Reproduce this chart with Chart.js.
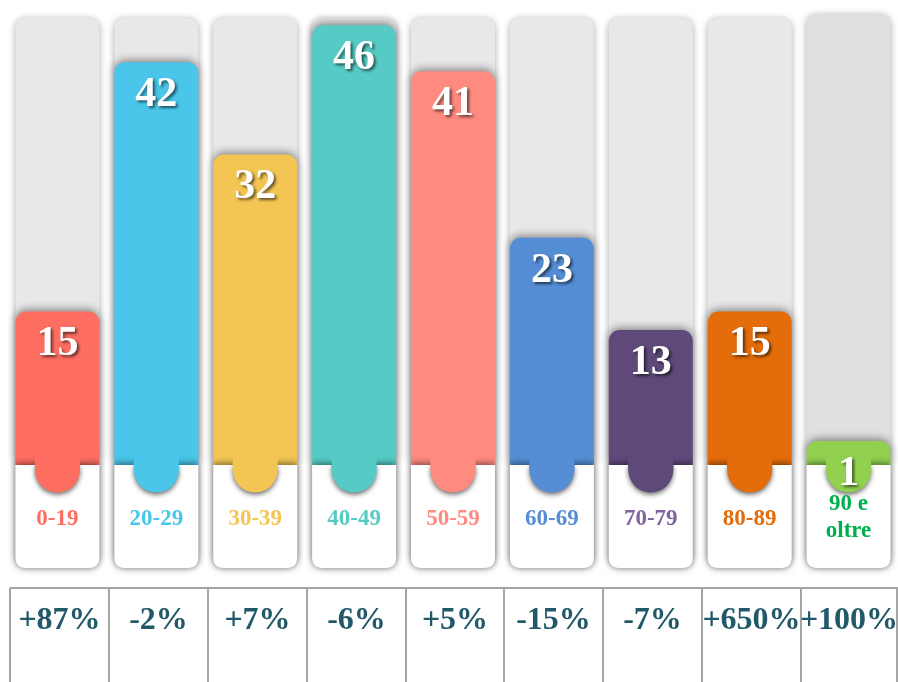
<!DOCTYPE html>
<html>
<head>
<meta charset="utf-8">
<script src="https://cdn.jsdelivr.net/npm/chart.js@4.4.1/dist/chart.umd.min.js"></script>
<style>
  html, body { margin: 0; padding: 0; background: #fff; }
  #wrap { width: 898px; height: 682px; }
</style>
</head>
<body>
<div id="wrap"><canvas id="chart" width="898" height="682"></canvas></div>
<script>
// --- Data ---
const categories = ['0-19', '20-29', '30-39', '40-49', '50-59', '60-69', '70-79', '80-89', ['90 e', 'oltre']];
const values = [15, 42, 32, 46, 41, 23, 13, 15, 1];
const changes = ['+87%', '-2%', '+7%', '-6%', '+5%', '-15%', '-7%', '+650%', '+100%'];
const barColors = ['#fe6e61', '#4ac6ea', '#f3c654', '#56cbc5', '#ff8b80', '#558ed5', '#5f497a', '#e46c0a', '#92d050'];
const labelColors = ['#fe6e61', '#4ac6ea', '#f3c654', '#56cbc5', '#ff8b80', '#558ed5', '#8064a2', '#e46c0a', '#00b050'];

const SERIF = '"Liberation Serif", "Times New Roman", serif';
const CARD_TOP = 465;
const CARD_BOTTOM = 568;
const HALF_W = 42;

function roundRect(ctx, x, y, w, h, r) {
    const rr = Array.isArray(r) ? r : [r, r, r, r];
    ctx.beginPath();
    ctx.moveTo(x + rr[0], y);
    ctx.lineTo(x + w - rr[1], y);
    ctx.quadraticCurveTo(x + w, y, x + w, y + rr[1]);
    ctx.lineTo(x + w, y + h - rr[2]);
    ctx.quadraticCurveTo(x + w, y + h, x + w - rr[2], y + h);
    ctx.lineTo(x + rr[3], y + h);
    ctx.quadraticCurveTo(x, y + h, x, y + h - rr[3]);
    ctx.lineTo(x, y + rr[0]);
    ctx.quadraticCurveTo(x, y, x + rr[0], y);
    ctx.closePath();
}

// tracks behind the bars, cards / notches / labels / table on top
const decor = {
    id: 'decor',
    beforeDatasetsDraw(chart) {
        const ctx = chart.ctx;
        const xs = chart.scales.x;
        categories.forEach((c, i) => {
            const cx = xs.getPixelForValue(i);
            const top = i === categories.length - 1 ? 14 : 18;
            ctx.save();
            ctx.shadowColor = 'rgba(0,0,0,0.35)';
            ctx.shadowBlur = 7;
            ctx.shadowOffsetY = 1;
            roundRect(ctx, cx - HALF_W, top, HALF_W * 2, CARD_BOTTOM - top, 11);
            ctx.fillStyle = i === categories.length - 1 ? '#e0e0e0' : '#e8e8e8';
            ctx.fill();
            ctx.restore();
        });
        // shadow for the bars
        ctx.save();
        ctx.shadowColor = 'rgba(0,0,0,0.45)';
        ctx.shadowBlur = 8;
        ctx.shadowOffsetY = -2;
    },
    afterDatasetsDraw(chart) {
        const ctx = chart.ctx;
        ctx.restore();
        const xs = chart.scales.x;
        const meta = chart.getDatasetMeta(0);

        categories.forEach((c, i) => {
            const cx = xs.getPixelForValue(i);
            // white card
            ctx.save();
            ctx.shadowColor = 'rgba(0,0,0,0.45)';
            ctx.shadowBlur = 6;
            ctx.shadowOffsetY = -2;
            roundRect(ctx, cx - HALF_W, CARD_TOP, HALF_W * 2, CARD_BOTTOM - CARD_TOP, [0, 0, 11, 11]);
            ctx.fillStyle = '#ffffff';
            ctx.fill();
            ctx.restore();

            // notch tab
            const r = 22.5;
            ctx.save();
            ctx.shadowColor = 'rgba(0,0,0,0.6)';
            ctx.shadowBlur = 5;
            ctx.shadowOffsetY = 2;
            ctx.beginPath();
            ctx.moveTo(cx - r, CARD_TOP);
            ctx.lineTo(cx - r, CARD_TOP + 5);
            ctx.arc(cx, CARD_TOP + 5, r, Math.PI, 0, true);
            ctx.lineTo(cx + r, CARD_TOP);
            ctx.closePath();
            ctx.fillStyle = barColors[i];
            ctx.fill();
            ctx.restore();
            ctx.fillStyle = barColors[i];
            ctx.fillRect(cx - r, CARD_TOP - 8, r * 2, 13);

            // category label
            ctx.save();
            ctx.font = 'bold 23px ' + SERIF;
            ctx.fillStyle = labelColors[i];
            ctx.textAlign = 'center';
            ctx.textBaseline = 'middle';
            if (Array.isArray(c)) {
                ctx.fillText(c[0], cx, 504);
                ctx.fillText(c[1], cx, 531);
            } else {
                ctx.fillText(c, cx, 519);
            }
            ctx.restore();

            // value label
            const bar = meta.data[i];
            ctx.save();
            ctx.font = 'bold 42px ' + SERIF;
            ctx.fillStyle = '#ffffff';
            ctx.textAlign = 'center';
            ctx.textBaseline = 'middle';
            ctx.shadowColor = 'rgba(0,0,0,0.6)';
            ctx.shadowBlur = 3;
            ctx.shadowOffsetX = 2;
            ctx.shadowOffsetY = 2;
            ctx.fillText(String(values[i]), cx, bar.y + 33);
            ctx.restore();
        });

        // table of changes
        const tTop = 588;
        ctx.save();
        ctx.strokeStyle = '#a6a6a6';
        ctx.lineWidth = 2;
        ctx.beginPath();
        ctx.moveTo(10, tTop);
        ctx.lineTo(898, tTop);
        const edges = [];
        categories.forEach((c, i) => edges.push(Math.round(xs.getPixelForValue(i) - 47.5)));
        edges.push(897);
        edges.forEach(x => {
            ctx.moveTo(x, tTop);
            ctx.lineTo(x, 682);
        });
        ctx.stroke();
        ctx.font = 'bold 32px ' + SERIF;
        ctx.fillStyle = '#215968';
        ctx.textAlign = 'center';
        ctx.textBaseline = 'middle';
        changes.forEach((t, i) => {
            ctx.fillText(t, (edges[i] + edges[i + 1]) / 2, 621);
        });
        ctx.restore();
    }
};

new Chart(document.getElementById('chart'), {
    type: 'bar',
    data: {
        labels: categories,
        datasets: [{
            data: values,
            backgroundColor: barColors,
            base: -1.6,
            borderRadius: { topLeft: 11, topRight: 11, bottomLeft: 0, bottomRight: 0 },
            borderSkipped: 'start',
            barPercentage: 0.85,
            categoryPercentage: 1
        }]
    },
    options: {
        responsive: false,
        animation: false,
        events: [],
        layout: { padding: { left: 8, right: 0, top: 15, bottom: 682 - CARD_TOP } },
        plugins: { legend: { display: false }, tooltip: { enabled: false } },
        scales: {
            x: { display: false },
            y: { display: false, min: -1.6, max: 47.1 }
        }
    },
    plugins: [decor]
});
</script>
</body>
</html>
